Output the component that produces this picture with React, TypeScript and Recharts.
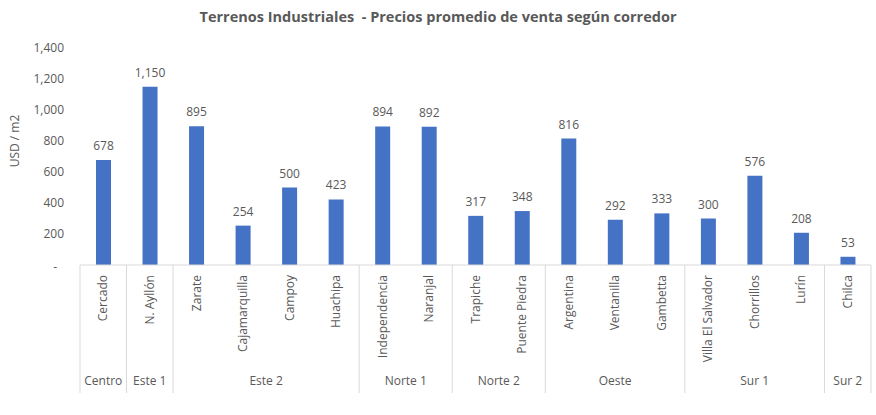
import { BarChart, Bar, XAxis, YAxis, LabelList } from 'recharts';

const districts = [
  'Cercado', 'N. Ayllón', 'Zarate', 'Cajamarquilla', 'Campoy', 'Huachipa',
  'Independencia', 'Naranjal', 'Trapiche', 'Puente Piedra', 'Argentina',
  'Ventanilla', 'Gambetta', 'Villa El Salvador', 'Chorrillos', 'Lurín', 'Chilca',
];
const corridors = [
  'Centro', 'Este 1', 'Este 2', 'Este 2', 'Este 2', 'Este 2',
  'Norte 1', 'Norte 1', 'Norte 2', 'Norte 2', 'Oeste',
  'Oeste', 'Oeste', 'Sur 1', 'Sur 1', 'Sur 1', 'Sur 2',
];
const prices = [678, 1150, 895, 254, 500, 423, 894, 892, 317, 348, 816, 292, 333, 300, 576, 208, 53];
const yTicks = [0, 200, 400, 600, 800, 1000, 1200, 1400];

const data = districts.map((name, i) => ({ name, corridor: corridors[i], price: prices[i] }));

const W = 876;
const H = 415;
const Y_W = 80;
const RIGHT = 5;
const BAND = (W - Y_W - RIGHT) / districts.length;
const FONT = '"Open Sans", sans-serif';
const GRAY = '#595959';
const LINE = '#d9d9d9';

const fmt = (v: number) => (v === 0 ? '-' : v.toLocaleString('en-US'));

function YTick(props: any) {
  const { x, y, payload } = props;
  const zero = payload.value === 0;
  return (
    <text
      x={zero ? x - 7 : x}
      y={zero ? y + 2 : y}
      dy="0.35em"
      textAnchor="end"
      fill={GRAY}
      fontSize={12}
      fontFamily={FONT}
    >
      {fmt(payload.value)}
    </text>
  );
}

function CategoryTick(props: any) {
  const { x, y, payload, index } = props;
  const i = index as number;
  const isStart = i === 0 || corridors[i] !== corridors[i - 1];
  let count = 0;
  if (isStart) {
    while (i + count < corridors.length && corridors[i + count] === corridors[i]) count++;
  }
  const left = x - BAND / 2;
  return (
    <g>
      <text
        x={x}
        y={y + 10}
        transform={`rotate(-90 ${x} ${y + 10})`}
        dy="0.35em"
        textAnchor="end"
        fill={GRAY}
        fontSize={12}
        fontFamily={FONT}
      >
        {payload.value}
      </text>
      {isStart && (
        <>
          <line x1={left} x2={left} y1={y} y2={y + 128} stroke={LINE} />
          <text
            x={left + (count * BAND) / 2}
            y={y + 120}
            textAnchor="middle"
            fill={GRAY}
            fontSize={12}
            fontFamily={FONT}
          >
            {corridors[i]}
          </text>
        </>
      )}
      {i === corridors.length - 1 && (
        <line x1={x + BAND / 2} x2={x + BAND / 2} y1={y} y2={y + 128} stroke={LINE} />
      )}
    </g>
  );
}

export default function App() {
  return (
    <div style={{ position: 'absolute', left: 0, top: 0, width: W, height: H, background: '#fff' }}>
      <div
        style={{
          position: 'absolute',
          top: 7,
          left: 0,
          width: W,
          textAlign: 'center',
          fontFamily: FONT,
          fontWeight: 700,
          fontSize: 14.5,
          color: GRAY,
          whiteSpace: 'pre',
        }}
      >
        {'Terrenos Industriales  - Precios promedio de venta según corredor'}
      </div>
      <div
        style={{
          position: 'absolute',
          left: 14,
          top: 141,
          transform: 'translate(-50%, -50%) rotate(-90deg)',
          fontFamily: FONT,
          fontSize: 12,
          color: GRAY,
          whiteSpace: 'nowrap',
        }}
      >
        USD / m2
      </div>
      <BarChart width={W} height={H} data={data} margin={{ top: 48, right: RIGHT, bottom: 0, left: 0 }}>
        <YAxis
          width={Y_W}
          domain={[0, 1400]}
          ticks={yTicks}
          axisLine={false}
          tickLine={false}
          tickSize={0}
          tickMargin={16}
          tick={<YTick />}
          interval={0}
        />
        <XAxis
          dataKey="name"
          height={150}
          interval={0}
          tickLine={false}
          tickSize={0}
          tickMargin={0}
          axisLine={{ stroke: LINE }}
          tick={<CategoryTick />}
        />
        <Bar dataKey="price" fill="#4472C4" barSize={15} isAnimationActive={false}>
          <LabelList
            dataKey="price"
            position="top"
            offset={10}
            formatter={(v: any) => fmt(Number(v))}
            fill={GRAY}
            fontSize={12}
            fontFamily={FONT}
          />
        </Bar>
      </BarChart>
    </div>
  );
}
